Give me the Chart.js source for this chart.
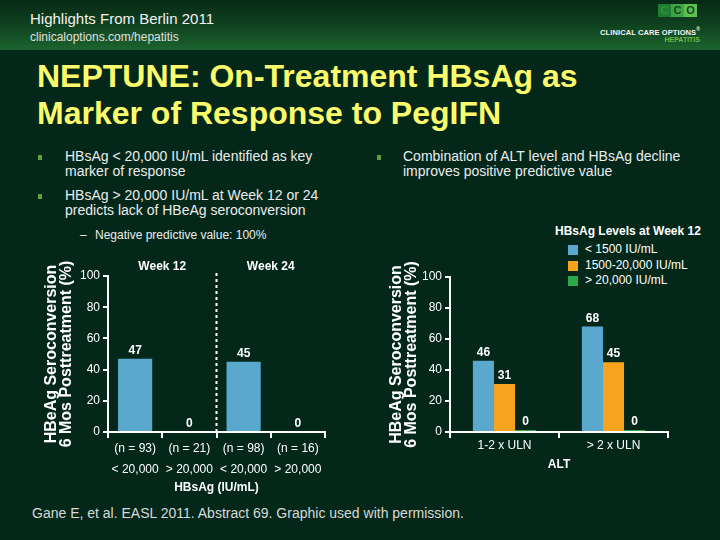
<!DOCTYPE html>
<html>
<head>
<meta charset="utf-8">
<script src="https://cdn.jsdelivr.net/npm/chart.js@4"></script>
<style>
  body { margin: 0; width: 720px; height: 540px; background: #03281a; position: relative; overflow: hidden;
         font-family: "Liberation Sans", Arial, sans-serif; color: #fff; }
  .abs { position: absolute; }
  #header { left: 0; top: 0; width: 720px; height: 50px;
            background: linear-gradient(to bottom, #072a15 0%, #0f411f 50%, #1c642f 100%); }
  #hl1 { left: 30px; top: 10px; font-size: 15px; color: #f2f2f2; }
  #hl2 { left: 30px; top: 30px; font-size: 12px; color: #e0e0e0; }
  #logo { left: 658px; top: 4px; font-size: 11px; font-weight: bold; line-height: 13px; }
  #logo span { display: inline-block; width: 13px; height: 13px; text-align: center; color: #16451f; }
  #cco1 { right: 20px; top: 26px; font-size: 7.5px; font-weight: bold; color: #f4f4f4; letter-spacing: 0.1px; }
  #cco2 { right: 20px; top: 36px; font-size: 7px; font-weight: bold; color: #6dbb4a; }
  #title { left: 37px; top: 58px; font-size: 32px; line-height: 37px; font-weight: bold; color: #fbfb6b; }
  .bul { font-size: 14px; line-height: 15px; color: #ececec; }
  .mark { width: 4px; height: 5px; background: #5f9e45; }
  #legend { left: 555px; top: 224px; font-size: 12px; color: #fff; }
  #legend .lt { font-weight: bold; margin-bottom: 4px; }
  #legend .row { position: relative; padding-left: 30px; height: 15.5px; line-height: 15.5px; }
  #legend .row i { position: absolute; left: 13px; top: 3px; width: 10px; height: 10px; }
  #foot { left: 32px; top: 505px; font-size: 14px; color: #d8d8d8; }
</style>
</head>
<body>
<div id="header" class="abs"></div>
<div id="hl1" class="abs">Highlights From Berlin 2011</div>
<div id="hl2" class="abs">clinicaloptions.com/hepatitis</div>
<div id="logo" class="abs"><span style="background:#1f7d31;color:#2f9140">C</span><span style="background:#3da547">C</span><span style="background:#5cc152">O</span></div>
<div id="cco1" class="abs">CLINICAL CARE OPTIONS<sup style="font-size:5px">®</sup></div>
<div id="cco2" class="abs">HEPATITIS</div>

<div id="title" class="abs">NEPTUNE: On-Treatment HBsAg as<br>Marker of Response to PegIFN</div>

<div class="abs mark" style="left:38px;top:155px"></div>
<div class="abs bul" style="left:65px;top:149px">HBsAg &lt; 20,000 IU/mL identified as key<br>marker of response</div>
<div class="abs mark" style="left:38px;top:194px"></div>
<div class="abs bul" style="left:65px;top:188px">HBsAg &gt; 20,000 IU/mL at Week 12 or 24<br>predicts lack of HBeAg seroconversion</div>
<div class="abs bul" style="left:80px;top:228px;font-size:12px">–</div>
<div class="abs bul" style="left:95px;top:228px;font-size:12px">Negative predictive value: 100%</div>
<div class="abs mark" style="left:377px;top:155px"></div>
<div class="abs bul" style="left:403px;top:149px">Combination of ALT level and HBsAg decline<br>improves positive predictive value</div>

<div id="legend" class="abs"></div>

<canvas id="chartLeft" class="abs" style="left:40px;top:255px" width="300" height="245"></canvas>
<canvas id="chartRight" class="abs" style="left:385px;top:255px" width="300" height="220"></canvas>

<div id="foot" class="abs">Gane E, et al. EASL 2011. Abstract 69. Graphic used with permission.</div>

<script>
// left chart: seroconversion by HBsAg at week 12 / week 24
const weekLabels = ['Week 12', 'Week 24'];
const leftCategories = [['(n = 93)', '< 20,000'], ['(n = 21)', '> 20,000'], ['(n = 98)', '< 20,000'], ['(n = 16)', '> 20,000']];
const leftValues = [47, 0, 45, 0];

// right chart: ALT level x HBsAg level at week 12
const altCategories = ['1-2 x ULN', '> 2 x ULN'];
const levelLabels = ['< 1500 IU/mL', '1500-20,000 IU/mL', '> 20,000 IU/mL'];
const lowValues = [46, 68];
const midValues = [31, 45];
const highValues = [0, 0];

const yTicks = [0, 20, 40, 60, 80, 100];
const yTitle = ['HBeAg Seroconversion', '6 Mos Posttreatment (%)'];

const FONT = '"Liberation Sans", Arial, sans-serif';
const BLUE = '#5ba8cf';
const ORANGE = '#f6a41d';
const GREEN = '#2aa94b';
const levelColors = [BLUE, ORANGE, GREEN];

// legend as html
const legendEl = document.getElementById('legend');
let html = '<div class="lt">HBsAg Levels at Week 12</div>';
levelLabels.forEach(function (l, i) {
    html += '<div class="row"><i style="background:' + levelColors[i] + '"></i>' +
        l.replace('<', '&lt;').replace('>', '&gt;') + '</div>';
});
legendEl.innerHTML = html;

const valueLabels = {
    id: 'valueLabels',
    afterDatasetsDraw(chart) {
        const ctx = chart.ctx;
        ctx.save();
        ctx.font = 'bold 12px ' + FONT;
        ctx.fillStyle = '#ffffff';
        ctx.textAlign = 'center';
        ctx.textBaseline = 'alphabetic';
        chart.data.datasets.forEach(function (ds, i) {
            chart.getDatasetMeta(i).data.forEach(function (bar, j) {
                ctx.fillText(ds.data[j], bar.x, bar.y - 5);
            });
        });
        ctx.restore();
    }
};

// week headers + dashed divider for the left chart
const weekHeaders = {
    id: 'weekHeaders',
    afterDraw(chart) {
        const ctx = chart.ctx;
        const x = chart.scales.x;
        const area = chart.chartArea;
        ctx.save();
        ctx.font = 'bold 12px ' + FONT;
        ctx.fillStyle = '#ffffff';
        ctx.textAlign = 'center';
        ctx.textBaseline = 'middle';
        weekLabels.forEach(function (w, i) {
            const cx = (x.getPixelForValue(i * 2) + x.getPixelForValue(i * 2 + 1)) / 2;
            ctx.fillText(w, cx, 12);
        });
        const dx = (x.getPixelForValue(1) + x.getPixelForValue(2)) / 2;
        ctx.strokeStyle = '#ffffff';
        ctx.lineWidth = 2;
        ctx.setLineDash([3, 3]);
        ctx.beginPath();
        ctx.moveTo(dx, 18);
        ctx.lineTo(dx, area.bottom);
        ctx.stroke();
        ctx.restore();
    }
};

function yScale(width) {
    return {
        min: 0,
        max: 100,
        afterBuildTicks: function (s) { s.ticks = yTicks.map(v => ({ value: v })); },
        afterFit: function (s) { s.width = width; },
        ticks: { color: '#ffffff', font: { size: 12, family: FONT }, padding: 3 },
        grid: { drawOnChartArea: false, tickLength: 5, color: '#ffffff', lineWidth: 2 },
        border: { color: '#ffffff', width: 2 },
        title: {
            display: true, text: yTitle, color: '#ffffff',
            font: { size: 16, weight: 'bold', family: FONT, lineHeight: 0.94 },
            padding: { top: 4.5, bottom: 0 }
        }
    };
}

function xScale(height, lineHeight, titleText, titlePad) {
    return {
        afterFit: function (s) { s.height = height; },
        ticks: { color: '#ffffff', font: { size: 12, family: FONT, lineHeight: lineHeight }, padding: 0, maxRotation: 0, autoSkip: false },
        grid: { drawOnChartArea: false, offset: true, tickLength: 6, color: '#ffffff', lineWidth: 2 },
        border: { color: '#ffffff', width: 2 },
        title: {
            display: true, text: titleText, color: '#ffffff',
            font: { size: 12, weight: 'bold', family: FONT },
            padding: { top: 0, bottom: titlePad }
        }
    };
}

new Chart(document.getElementById('chartLeft'), {
    type: 'bar',
    data: {
        labels: leftCategories,
        datasets: [{
            label: 'HBeAg seroconversion',
            data: leftValues,
            backgroundColor: BLUE,
            barPercentage: 0.63,
            categoryPercentage: 1
        }]
    },
    options: {
        responsive: false,
        animation: false,
        layout: { padding: { top: 21, right: 15, left: 0, bottom: 0 } },
        plugins: { legend: { display: false }, tooltip: { enabled: false } },
        scales: {
            x: xScale(68, 1.75, 'HBsAg (IU/mL)', 5),
            y: yScale(68)
        }
    },
    plugins: [valueLabels, weekHeaders]
});

new Chart(document.getElementById('chartRight'), {
    type: 'bar',
    data: {
        labels: altCategories,
        datasets: [
            { label: levelLabels[0], data: lowValues, backgroundColor: BLUE, barPercentage: 1, categoryPercentage: 0.58 },
            { label: levelLabels[1], data: midValues, backgroundColor: ORANGE, barPercentage: 1, categoryPercentage: 0.58 },
            { label: levelLabels[2], data: highValues, backgroundColor: GREEN, barPercentage: 1, categoryPercentage: 0.58, minBarLength: 2 }
        ]
    },
    options: {
        responsive: false,
        animation: false,
        layout: { padding: { top: 22, right: 17, left: 0, bottom: 0 } },
        plugins: { legend: { display: false }, tooltip: { enabled: false } },
        scales: {
            x: xScale(43, 1.2, 'ALT', 3),
            y: yScale(65)
        }
    },
    plugins: [valueLabels]
});
</script>
</body>
</html>
